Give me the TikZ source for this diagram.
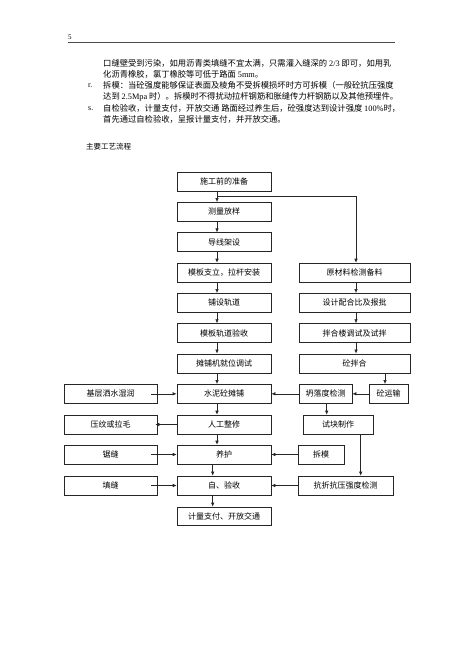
\documentclass[tikz,border=0pt]{standalone}
\usepackage{fontspec}
\setmainfont{Liberation Serif}
\newfontfamily\cjk{Noto Sans CJK SC}
\usetikzlibrary{arrows.meta}

\begin{document}
\begin{tikzpicture}[x=1pt, y=-1pt,
  every node/.style={font=\cjk\fontsize{8}{9}\selectfont},
  txt/.style={anchor=west, inner sep=0pt, font=\cjk\fontsize{8.3}{9}\selectfont},
  box/.style={draw=black!85, line width=0.6pt, minimum height=19pt, inner sep=0pt},
  flow/.style={draw=black!85, line width=0.6pt, -{Latex[length=4pt,width=3.5pt]}}]
  \useasboundingbox (0,0) rectangle (465,657);

  \node[anchor=west, inner sep=0pt, font=\rmfamily\fontsize{7}{8}\selectfont] at (68,37) {5};
  \draw[line width=0.5pt, black!70] (68,42.7) -- (395,42.7);

  \node[txt] at (103,63.3) {口缝壁受到污染，如用沥青类填缝不宜太满，只需灌入缝深的 {\rmfamily 2/3} 即可，如用乳};
  \node[txt] at (103,74.5) {化沥青橡胶，氯丁橡胶等可低于路面 {\rmfamily 5mm}。};
  \node[txt, font=\rmfamily\fontsize{8}{9}\selectfont] at (88,85.7) {r.};
  \node[txt] at (103,85.7) {拆模：当砼强度能够保证表面及棱角不受拆模损坏时方可拆模（一般砼抗压强度};
  \node[txt] at (103,96.9) {达到 {\rmfamily 2.5Mpa} 时）。拆模时不得扰动拉杆钢筋和胀缝传力杆钢筋以及其他预埋件。};
  \node[txt, font=\rmfamily\fontsize{8}{9}\selectfont] at (88,108.3) {s.};
  \node[txt] at (103,108.3) {自检验收，计量支付，开放交通 路面经过养生后，砼强度达到设计强度 {\rmfamily 100\%}时，};
  \node[txt] at (103,119.5) {首先通过自检验收，呈报计量支付，并开放交通。};

  \node[txt, font=\cjk\fontsize{7.5}{9}\selectfont] at (86,147) {主要工艺流程};

  \node[box, minimum width=94pt] (prep) at (224,181.5) {施工前的准备};
  \node[box, minimum width=94pt] (survey) at (224,211.8) {测量放样};
  \node[box, minimum width=94pt] (guide) at (224,242.2) {导线架设};
  \node[box, minimum width=94pt] (form) at (224,272.5) {模板支立，拉杆安装};
  \node[box, minimum width=94pt] (rail) at (224,302.8) {铺设轨道};
  \node[box, minimum width=94pt] (check) at (224,333.1) {模板轨道验收};
  \node[box, minimum width=94pt] (paver) at (224,363.4) {摊铺机就位调试};
  \node[box, minimum width=94pt] (pave) at (224,393.8) {水泥砼摊铺};
  \node[box, minimum width=94pt] (trim) at (224,424.5) {人工整修};
  \node[box, minimum width=94pt] (cure) at (224,454.5) {养护};
  \node[box, minimum width=94pt] (accept) at (224,485.5) {自、验收};
  \node[box, minimum width=94pt, minimum height=18pt] (pay) at (224,516) {计量支付、开放交通};

  \node[box, minimum width=111pt] (material) at (354.5,272.5) {原材料检测备料};
  \node[box, minimum width=111pt] (mix) at (354.5,302.8) {设计配合比及报批};
  \node[box, minimum width=111pt] (plant) at (354.5,333.1) {拌合楼调试及试拌};
  \node[box, minimum width=111pt] (batch) at (354.5,363.4) {砼拌合};
  \node[box, minimum width=53pt] (slump) at (325.5,393.8) {坍落度检测};
  \node[box, minimum width=39pt] (haul) at (388.5,393.8) {砼运输};
  \node[box, minimum width=70pt] (sample) at (338,424.5) {试块制作};
  \node[box, minimum width=46pt] (strip) at (321,454.5) {拆模};
  \node[box, minimum width=95pt] (strength) at (345.5,485.5) {抗折抗压强度检测};

  \node[box, minimum width=93pt] (wet) at (110.5,393.8) {基层洒水湿润};
  \node[box, minimum width=93pt] (texture) at (110.5,424.5) {压纹或拉毛};
  \node[box, minimum width=93pt] (saw) at (110.5,454.5) {锯缝};
  \node[box, minimum width=93pt] (seal) at (110.5,485.5) {填缝};

  \coordinate (split) at (217,196);

  \draw[flow] ([xshift=-7pt]prep.south) -- ([xshift=-7pt]survey.north);
  \draw[flow] (split) -| ([xshift=1.5pt]material.north);
  \draw[flow] ([xshift=-7pt]survey.south) -- ([xshift=-7pt]guide.north);
  \draw[flow] ([xshift=-7pt]guide.south) -- ([xshift=-7pt]form.north);
  \draw[flow] ([xshift=-7pt]form.south) -- ([xshift=-7pt]rail.north);
  \draw[flow] ([xshift=-7pt]rail.south) -- ([xshift=-7pt]check.north);
  \draw[flow] ([xshift=-7pt]check.south) -- ([xshift=-7pt]paver.north);
  \draw[flow] ([xshift=-7pt]paver.south) -- ([xshift=-7pt]pave.north);
  \draw[flow] ([xshift=-7pt]pave.south) -- ([xshift=-7pt]trim.north);
  \draw[flow] ([xshift=-7pt]trim.south) -- ([xshift=-7pt]cure.north);
  \draw[flow] ([xshift=-11.3pt]cure.south) -- ([xshift=-11.3pt]accept.north);
  \draw[flow] ([xshift=-11.3pt]accept.south) -- ([xshift=-11.3pt]pay.north);

  \draw[flow] ([xshift=1.5pt]material.south) -- ([xshift=1.5pt]mix.north);
  \draw[flow] ([xshift=1.5pt]mix.south) -- ([xshift=1.5pt]plant.north);
  \draw[flow] ([xshift=1.5pt]plant.south) -- ([xshift=1.5pt]batch.north);
  \draw[flow] ([xshift=-3.5pt]haul.north |- batch.south) -- ([xshift=-3.5pt]haul.north);
  \draw[flow] (haul.west) -- (slump.east);
  \draw[flow] (slump.west) -- (pave.east);
  \draw[flow] ([xshift=1.2pt]slump.south) -- ([xshift=1.2pt]slump.south |- sample.north);
  \draw[flow] ([xshift=22.7pt]sample.south) -- ([xshift=22.7pt]sample.south |- strength.north);
  \draw[flow] (strip.west) -- (cure.east);
  \draw[flow] (strength.west) -- (accept.east);

  \draw[flow] ([xshift=-6pt]wet.east) -- (pave.west);
  \draw[flow] (trim.west) -- ([xshift=-2pt]texture.east);
  \draw[flow] ([xshift=-6pt]saw.east) -- (cure.west);
  \draw[flow] ([xshift=-6pt]seal.east) -- (accept.west);
\end{tikzpicture}
\end{document}
